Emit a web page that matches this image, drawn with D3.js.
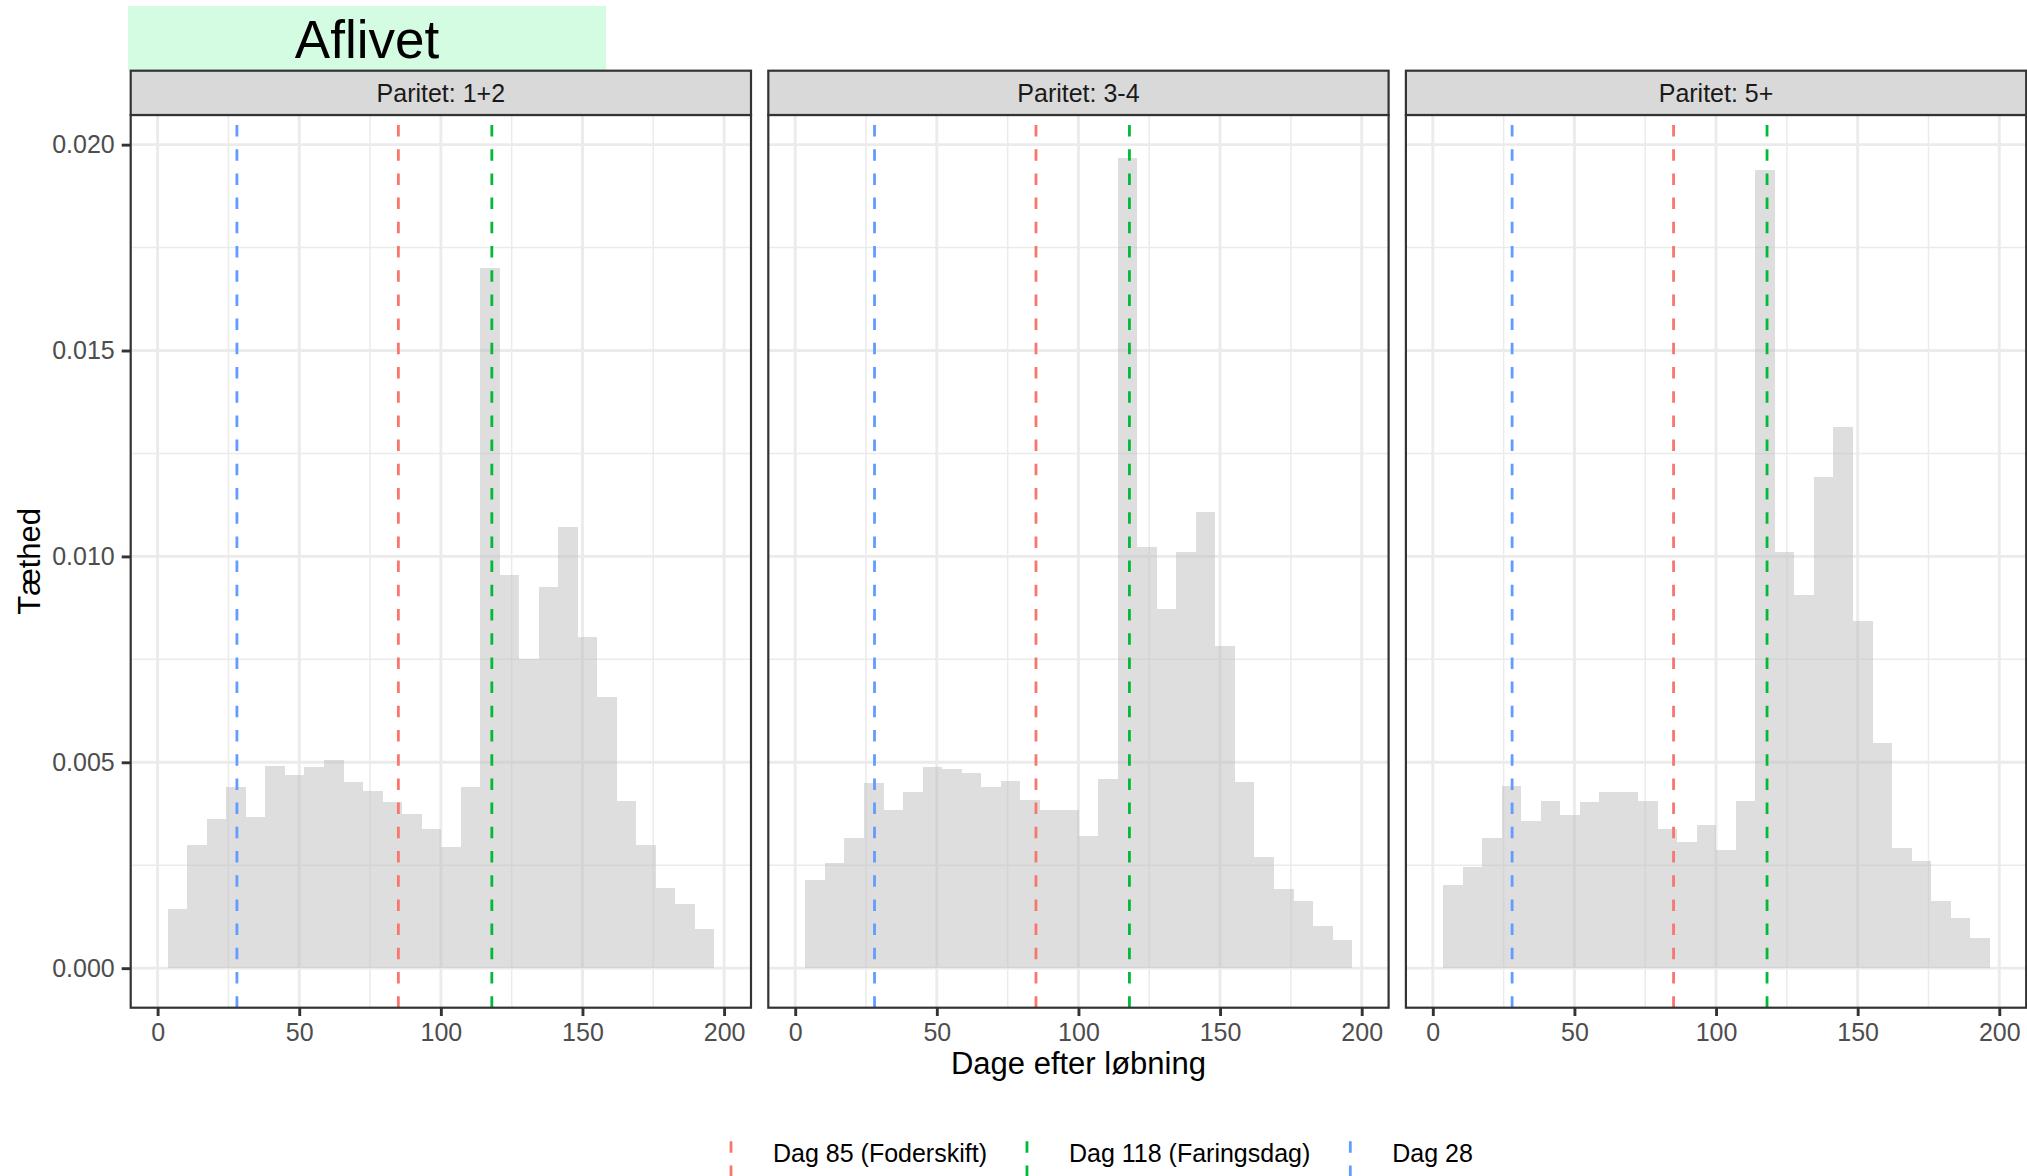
<!DOCTYPE html>
<html>
<head>
<meta charset="utf-8">
<script src="https://cdn.jsdelivr.net/npm/d3@7"></script>
<style>
  html, body { margin: 0; padding: 0; background: #ffffff; }
  svg { display: block; font-family: "Liberation Sans", Arial, Helvetica, sans-serif; }
</style>
</head>
<body>
<svg id="chart" width="2027" height="1176"></svg>
<script>
// ---------------- DATA ----------------
const titleText = "Aflivet";
const categories = ["Paritet: 1+2", "Paritet: 3-4", "Paritet: 5+"];

// histogram bins (days after mating)
const binStart = 3.6;
const binWidth = 6.893;

// density per bin, one array per panel
const density12 = [0.00143, 0.00299, 0.00362, 0.00439, 0.00366, 0.00491, 0.00469, 0.00489,
                   0.00505, 0.00451, 0.00431, 0.00404, 0.00375, 0.00339, 0.00294, 0.00439,
                   0.01701, 0.00954, 0.00752, 0.00925, 0.01071, 0.00805, 0.00659, 0.00406,
                   0.00299, 0.00195, 0.00156, 0.00094];
const density34 = [0.00213, 0.00255, 0.00317, 0.00450, 0.00384, 0.00427, 0.00488, 0.00484,
                   0.00474, 0.00440, 0.00455, 0.00409, 0.00384, 0.00384, 0.00322, 0.00460,
                   0.01968, 0.01022, 0.00872, 0.01011, 0.01108, 0.00782, 0.00453, 0.00270,
                   0.00193, 0.00164, 0.00102, 0.00069];
const density5  = [0.00202, 0.00246, 0.00315, 0.00443, 0.00358, 0.00405, 0.00371, 0.00404,
                   0.00429, 0.00429, 0.00405, 0.00339, 0.00307, 0.00348, 0.00288, 0.00406,
                   0.01939, 0.01010, 0.00906, 0.01192, 0.01315, 0.00843, 0.00546, 0.00291,
                   0.00260, 0.00164, 0.00123, 0.00074];
const densities = [density12, density34, density5];

// reference lines
const refDays   = [85, 118, 28];
const refLabels = ["Dag 85 (Foderskift)", "Dag 118 (Faringsdag)", "Dag 28"];

// axes
const xTicks = [0, 50, 100, 150, 200];
const xMinor = [25, 75, 125, 175];
const yTicks = [0, 0.005, 0.010, 0.015, 0.020];
const yTickLabels = ["0.000", "0.005", "0.010", "0.015", "0.020"];
const yMinor = [0.0025, 0.0075, 0.0125, 0.0175];
const xTitle = "Dage efter løbning";
const yTitle = "Tæthed";

// ---------------- STYLE ----------------
const refColors = ["#F8766D", "#00BA38", "#619CFF"];
const barFill = "#BEBEBE";
const gridColor = "#EBEBEB";
const borderColor = "#333333";

// ---------------- LAYOUT ----------------
const svg = d3.select("#chart");
const panelW = 620.3, panelGap = 17.3, firstLeft = 130.7;
const stripTop = 70.7, stripBottom = 115, panelBottom = 1007.7;
const xDomain = [-9.5, 209.5];
const yDomain = [-0.00096, 0.02072];

const y = d3.scaleLinear().domain(yDomain).range([panelBottom, stripBottom]);

// title box
const titleG = svg.append("g");
titleG.append("rect").attr("x", 128).attr("y", 6).attr("width", 478).attr("height", 64.7)
  .attr("fill", "#D4FCE3");
titleG.append("text").attr("x", 367).attr("y", 57.5).attr("text-anchor", "middle")
  .attr("font-size", 53).attr("fill", "#000").text(titleText);

categories.forEach((cat, p) => {
  const left = firstLeft + p * (panelW + panelGap);
  const x = d3.scaleLinear().domain(xDomain).range([left, left + panelW]);
  const g = svg.append("g");

  // panel background
  g.append("rect").attr("x", left).attr("y", stripBottom).attr("width", panelW)
    .attr("height", panelBottom - stripBottom).attr("fill", "#fff");

  // minor grid
  g.selectAll(".ymin").data(yMinor).join("line")
    .attr("x1", left).attr("x2", left + panelW)
    .attr("y1", d => y(d)).attr("y2", d => y(d))
    .attr("stroke", gridColor).attr("stroke-width", 1.5);
  g.selectAll(".xmin").data(xMinor).join("line")
    .attr("y1", stripBottom).attr("y2", panelBottom)
    .attr("x1", d => x(d)).attr("x2", d => x(d))
    .attr("stroke", gridColor).attr("stroke-width", 1.5);
  // major grid
  g.selectAll(".ymaj").data(yTicks).join("line")
    .attr("x1", left).attr("x2", left + panelW)
    .attr("y1", d => y(d)).attr("y2", d => y(d))
    .attr("stroke", gridColor).attr("stroke-width", 2.9);
  g.selectAll(".xmaj").data(xTicks).join("line")
    .attr("y1", stripBottom).attr("y2", panelBottom)
    .attr("x1", d => x(d)).attr("x2", d => x(d))
    .attr("stroke", gridColor).attr("stroke-width", 2.9);

  // bars
  const bins = densities[p].map((v, i) => ({
    x0: binStart + i * binWidth, x1: binStart + (i + 1) * binWidth, v
  }));
  g.selectAll(".bar").data(bins).join("rect")
    .attr("x", d => x(d.x0)).attr("width", d => x(d.x1) - x(d.x0))
    .attr("y", d => y(d.v)).attr("height", d => y(0) - y(d.v))
    .attr("fill", barFill).attr("fill-opacity", 0.5).attr("shape-rendering", "crispEdges");

  // reference lines (drawn bottom to top)
  g.selectAll(".ref").data(refDays).join("line")
    .attr("x1", d => x(d)).attr("x2", d => x(d))
    .attr("y1", panelBottom).attr("y2", stripBottom)
    .attr("stroke", (d, i) => refColors[i]).attr("stroke-width", 2.8)
    .attr("stroke-dasharray", "11.5,12.7");

  // panel border
  g.append("rect").attr("x", left).attr("y", stripBottom).attr("width", panelW)
    .attr("height", panelBottom - stripBottom).attr("fill", "none")
    .attr("stroke", borderColor).attr("stroke-width", 2.2);

  // strip
  g.append("rect").attr("x", left).attr("y", stripTop).attr("width", panelW)
    .attr("height", stripBottom - stripTop).attr("fill", "#D9D9D9")
    .attr("stroke", borderColor).attr("stroke-width", 2.2);
  g.append("text").attr("x", left + panelW / 2).attr("y", (stripTop + stripBottom) / 2)
    .attr("dy", "0.35em").attr("text-anchor", "middle").attr("font-size", 25)
    .attr("fill", "#1A1A1A").text(cat);

  // x axis
  const xAxis = d3.axisBottom(x).tickValues(xTicks).tickSize(8.3).tickPadding(7);
  const xg = g.append("g").attr("transform", `translate(0,${panelBottom})`).call(xAxis);
  xg.select(".domain").remove();
  xg.selectAll(".tick line").attr("stroke", borderColor).attr("stroke-width", 2.9);
  xg.selectAll(".tick text").attr("font-size", 25).attr("fill", "#4D4D4D")
    .attr("font-family", "Liberation Sans, Arial, sans-serif");

  // y axis only on first panel
  if (p === 0) {
    const yAxis = d3.axisLeft(y).tickValues(yTicks).tickSize(9)
      .tickFormat((d, i) => yTickLabels[i]).tickPadding(7);
    const yg = g.append("g").attr("transform", `translate(${left},0)`).call(yAxis);
    yg.select(".domain").remove();
    yg.selectAll(".tick line").attr("stroke", borderColor).attr("stroke-width", 2.9);
    yg.selectAll(".tick text").attr("font-size", 25).attr("fill", "#4D4D4D")
      .attr("font-family", "Liberation Sans, Arial, sans-serif");
  }
});

// axis titles
const panelsLeft = firstLeft, panelsRight = firstLeft + 3 * panelW + 2 * panelGap;
svg.append("text").attr("x", (panelsLeft + panelsRight) / 2).attr("y", 1074)
  .attr("text-anchor", "middle").attr("font-size", 31).attr("fill", "#000").text(xTitle);
svg.append("text").attr("transform", `translate(40,${(stripBottom + panelBottom) / 2}) rotate(-90)`)
  .attr("text-anchor", "middle").attr("font-size", 31).attr("fill", "#000").text(yTitle);

// legend
const legend = svg.append("g");
let cx = 731;
const keyToText = 42, textToKey = 40;
const keyTop = 1129, keyBottom = 1177, legendTextY = 1153;
refLabels.forEach((lab, i) => {
  legend.append("line").attr("x1", cx).attr("x2", cx).attr("y1", keyBottom).attr("y2", keyTop)
    .attr("stroke", refColors[i]).attr("stroke-width", 2.8).attr("stroke-dasharray", "11.5,12.7");
  const t = legend.append("text").attr("x", cx + keyToText).attr("y", legendTextY).attr("dy", "0.35em")
    .attr("font-size", 25).attr("fill", "#000").text(lab);
  cx = cx + keyToText + t.node().getComputedTextLength() + textToKey;
});
</script>
</body>
</html>
